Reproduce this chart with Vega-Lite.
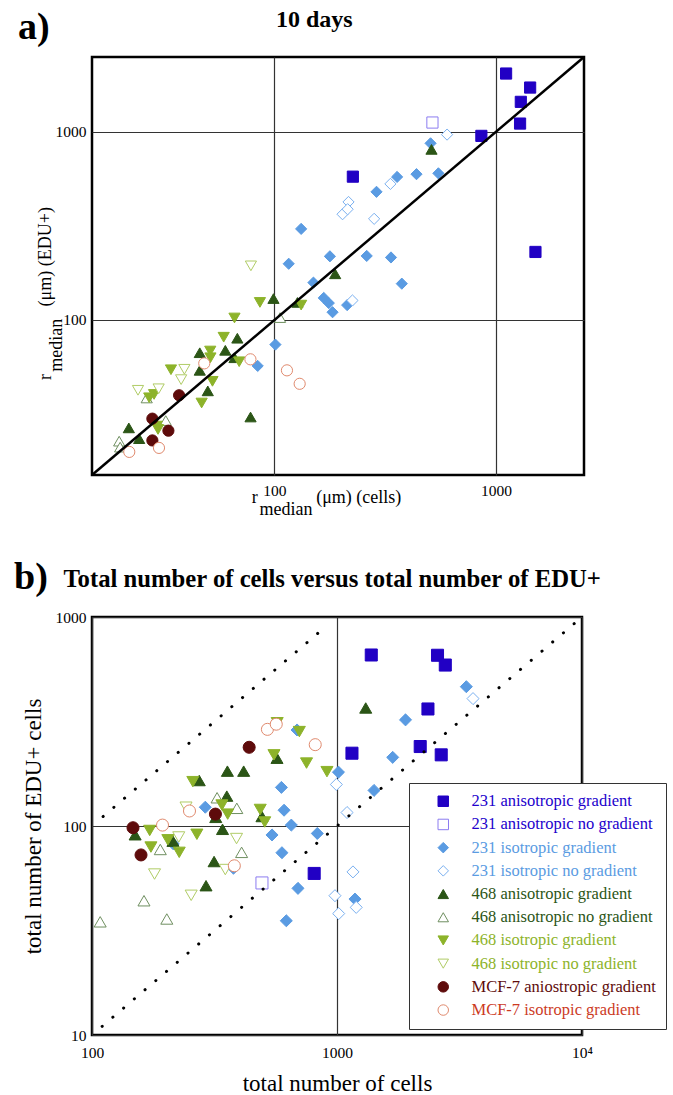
{
  "$schema": "https://vega.github.io/schema/vega-lite/v6.json",
  "padding": {"left": 12, "top": 6, "right": 0, "bottom": 0},
  "background": "white",
  "config": {
    "view": {"stroke": "black", "strokeWidth": 2.5},
    "font": "Liberation Serif",
    "axis": {
      "labelFont": "Liberation Serif", "titleFont": "Liberation Serif",
      "labelColor": "black", "titleColor": "black", "titleFontWeight": "normal",
      "ticks": false, "domain": false, "gridColor": "#333", "gridWidth": 1.2, "gridOpacity": 1,
      "labelFlush": false, "labelOverlap": false, "labelBound": false, "labelFontSize": 15.5
    },
    "title": {"font": "Liberation Serif", "subtitleFont": "Liberation Serif", "color": "black", "subtitleColor": "black", "fontWeight": "bold", "subtitleFontWeight": "bold", "anchor": "start", "frame": "bounds"},
    "legend": {
      "labelFont": "Liberation Serif", "labelFontSize": 16.5, "labelLimit": 320,
      "symbolSize": 110, "symbolStrokeWidth": 1, "rowPadding": 6.2, "padding": 10,
      "fillColor": "white", "strokeColor": "#333",
      "symbolOffset": 16, "labelOffset": 20
    }
  },
  "datasets": {
    "a_line": [{"x": 15, "y": 15}, {"x": 2500, "y": 2500}],
    "b_lines": [
      {"line": "upper", "x": 111, "y": 111}, {"line": "upper", "x": 890, "y": 890},
      {"line": "lower", "x": 110, "y": 11}, {"line": "lower", "x": 9400, "y": 940}
    ],
    "a_pts": [
      {"g": "231 anisotropic gradient", "x": 1112, "y": 2042},
      {"g": "231 anisotropic gradient", "x": 1428, "y": 1720},
      {"g": "231 anisotropic gradient", "x": 1296, "y": 1444},
      {"g": "231 anisotropic gradient", "x": 1286, "y": 1107},
      {"g": "231 anisotropic gradient", "x": 860, "y": 952},
      {"g": "231 anisotropic gradient", "x": 1509, "y": 230},
      {"g": "231 anisotropic gradient", "x": 226, "y": 578},
      {"g": "231 anisotropic no gradient", "x": 517, "y": 1121},
      {"g": "231 isotropic gradient", "x": 507, "y": 869},
      {"g": "231 isotropic gradient", "x": 358, "y": 576},
      {"g": "231 isotropic gradient", "x": 438, "y": 596},
      {"g": "231 isotropic gradient", "x": 550, "y": 602},
      {"g": "231 isotropic gradient", "x": 289, "y": 480},
      {"g": "231 isotropic gradient", "x": 132, "y": 305},
      {"g": "231 isotropic gradient", "x": 116, "y": 199},
      {"g": "231 isotropic gradient", "x": 178, "y": 218},
      {"g": "231 isotropic gradient", "x": 261, "y": 219},
      {"g": "231 isotropic gradient", "x": 336, "y": 215},
      {"g": "231 isotropic gradient", "x": 376, "y": 156},
      {"g": "231 isotropic gradient", "x": 150, "y": 158},
      {"g": "231 isotropic gradient", "x": 167, "y": 131},
      {"g": "231 isotropic gradient", "x": 176, "y": 123},
      {"g": "231 isotropic gradient", "x": 183, "y": 110},
      {"g": "231 isotropic gradient", "x": 213, "y": 120},
      {"g": "231 isotropic gradient", "x": 101, "y": 74},
      {"g": "231 isotropic gradient", "x": 84, "y": 57},
      {"g": "231 isotropic no gradient", "x": 602, "y": 967},
      {"g": "231 isotropic no gradient", "x": 334, "y": 529},
      {"g": "231 isotropic no gradient", "x": 216, "y": 424},
      {"g": "231 isotropic no gradient", "x": 203, "y": 365},
      {"g": "231 isotropic no gradient", "x": 214, "y": 388},
      {"g": "231 isotropic no gradient", "x": 282, "y": 345},
      {"g": "231 isotropic no gradient", "x": 225, "y": 127},
      {"g": "468 anisotropic gradient", "x": 512, "y": 807},
      {"g": "468 anisotropic gradient", "x": 188, "y": 176},
      {"g": "468 anisotropic gradient", "x": 99, "y": 130},
      {"g": "468 anisotropic gradient", "x": 127, "y": 124},
      {"g": "468 anisotropic gradient", "x": 68, "y": 80},
      {"g": "468 anisotropic gradient", "x": 60, "y": 69},
      {"g": "468 anisotropic gradient", "x": 46, "y": 67},
      {"g": "468 anisotropic gradient", "x": 46, "y": 54},
      {"g": "468 anisotropic gradient", "x": 66, "y": 63},
      {"g": "468 anisotropic gradient", "x": 50, "y": 42},
      {"g": "468 anisotropic gradient", "x": 78, "y": 30.5},
      {"g": "468 anisotropic gradient", "x": 22, "y": 26.7},
      {"g": "468 anisotropic gradient", "x": 24.5, "y": 23.4},
      {"g": "468 anisotropic no gradient", "x": 106, "y": 103},
      {"g": "468 anisotropic no gradient", "x": 26.5, "y": 38.5},
      {"g": "468 anisotropic no gradient", "x": 32.3, "y": 29.2},
      {"g": "468 anisotropic no gradient", "x": 19.9, "y": 22.7},
      {"g": "468 anisotropic no gradient", "x": 20.1, "y": 21.1},
      {"g": "468 isotropic gradient", "x": 86, "y": 124},
      {"g": "468 isotropic gradient", "x": 132, "y": 120},
      {"g": "468 isotropic gradient", "x": 66, "y": 102.5},
      {"g": "468 isotropic gradient", "x": 59, "y": 81},
      {"g": "468 isotropic gradient", "x": 51.3, "y": 68.4},
      {"g": "468 isotropic gradient", "x": 51.4, "y": 63},
      {"g": "468 isotropic gradient", "x": 69.3, "y": 60},
      {"g": "468 isotropic gradient", "x": 34.1, "y": 54.4},
      {"g": "468 isotropic gradient", "x": 52.5, "y": 47.2},
      {"g": "468 isotropic gradient", "x": 46.9, "y": 36.2},
      {"g": "468 isotropic gradient", "x": 27.2, "y": 38.6},
      {"g": "468 isotropic gradient", "x": 28.6, "y": 40.2},
      {"g": "468 isotropic gradient", "x": 29.4, "y": 27.3},
      {"g": "468 isotropic gradient", "x": 29.8, "y": 26.2},
      {"g": "468 isotropic no gradient", "x": 78.3, "y": 194},
      {"g": "468 isotropic no gradient", "x": 39.2, "y": 54.7},
      {"g": "468 isotropic no gradient", "x": 37.9, "y": 48.2},
      {"g": "468 isotropic no gradient", "x": 24.2, "y": 42.3},
      {"g": "468 isotropic no gradient", "x": 30, "y": 43.1},
      {"g": "MCF-7 aniostropic gradient", "x": 37.1, "y": 39.8},
      {"g": "MCF-7 aniostropic gradient", "x": 28.1, "y": 29.9},
      {"g": "MCF-7 aniostropic gradient", "x": 33.2, "y": 25.8},
      {"g": "MCF-7 aniostropic gradient", "x": 28.1, "y": 22.9},
      {"g": "MCF-7 isotropic gradient", "x": 77.9, "y": 61.8},
      {"g": "MCF-7 isotropic gradient", "x": 113.9, "y": 54},
      {"g": "MCF-7 isotropic gradient", "x": 130, "y": 45.8},
      {"g": "MCF-7 isotropic gradient", "x": 48.2, "y": 58.8},
      {"g": "MCF-7 isotropic gradient", "x": 30.1, "y": 20.9},
      {"g": "MCF-7 isotropic gradient", "x": 22.1, "y": 19.9}
    ],
    "b_pts": [
      {"g": "231 anisotropic gradient", "x": 1380, "y": 658},
      {"g": "231 anisotropic gradient", "x": 2572, "y": 656},
      {"g": "231 anisotropic gradient", "x": 2767, "y": 589},
      {"g": "231 anisotropic gradient", "x": 2351, "y": 363},
      {"g": "231 anisotropic gradient", "x": 1151, "y": 223},
      {"g": "231 anisotropic gradient", "x": 2186, "y": 240},
      {"g": "231 anisotropic gradient", "x": 2663, "y": 219},
      {"g": "231 anisotropic gradient", "x": 807, "y": 59.3},
      {"g": "231 anisotropic no gradient", "x": 494, "y": 53.4},
      {"g": "231 isotropic gradient", "x": 3372, "y": 464},
      {"g": "231 isotropic gradient", "x": 1904, "y": 322},
      {"g": "231 isotropic gradient", "x": 1688, "y": 213},
      {"g": "231 isotropic gradient", "x": 1416, "y": 148},
      {"g": "231 isotropic gradient", "x": 1014, "y": 181},
      {"g": "231 isotropic gradient", "x": 687, "y": 288},
      {"g": "231 isotropic gradient", "x": 593, "y": 153},
      {"g": "231 isotropic gradient", "x": 608, "y": 119},
      {"g": "231 isotropic gradient", "x": 651, "y": 101},
      {"g": "231 isotropic gradient", "x": 543, "y": 90.6},
      {"g": "231 isotropic gradient", "x": 831, "y": 92.1},
      {"g": "231 isotropic gradient", "x": 290, "y": 123},
      {"g": "231 isotropic gradient", "x": 596, "y": 74.5},
      {"g": "231 isotropic gradient", "x": 693, "y": 50.3},
      {"g": "231 isotropic gradient", "x": 621, "y": 35.2},
      {"g": "231 isotropic gradient", "x": 1184, "y": 44.7},
      {"g": "231 isotropic gradient", "x": 378, "y": 62.8},
      {"g": "231 isotropic gradient", "x": 214.5, "y": 82.2},
      {"g": "231 isotropic no gradient", "x": 3591, "y": 407},
      {"g": "231 isotropic no gradient", "x": 994, "y": 158},
      {"g": "231 isotropic no gradient", "x": 1099, "y": 116},
      {"g": "231 isotropic no gradient", "x": 1162, "y": 60.3},
      {"g": "231 isotropic no gradient", "x": 981, "y": 46.4},
      {"g": "231 isotropic no gradient", "x": 1016, "y": 38.1},
      {"g": "231 isotropic no gradient", "x": 1198, "y": 40.8},
      {"g": "468 anisotropic gradient", "x": 1310, "y": 367},
      {"g": "468 anisotropic gradient", "x": 569, "y": 211},
      {"g": "468 anisotropic gradient", "x": 357, "y": 183},
      {"g": "468 anisotropic gradient", "x": 416, "y": 183},
      {"g": "468 anisotropic gradient", "x": 274, "y": 165},
      {"g": "468 anisotropic gradient", "x": 355, "y": 139},
      {"g": "468 anisotropic gradient", "x": 320, "y": 110},
      {"g": "468 anisotropic gradient", "x": 494, "y": 111},
      {"g": "468 anisotropic gradient", "x": 341, "y": 96.4},
      {"g": "468 anisotropic gradient", "x": 150, "y": 90.8},
      {"g": "468 anisotropic gradient", "x": 214, "y": 84.6},
      {"g": "468 anisotropic gradient", "x": 315, "y": 67.6},
      {"g": "468 anisotropic gradient", "x": 292, "y": 51.8},
      {"g": "468 anisotropic no gradient", "x": 324, "y": 136.5},
      {"g": "468 anisotropic no gradient", "x": 390, "y": 121.5},
      {"g": "468 anisotropic no gradient", "x": 190, "y": 77.2},
      {"g": "468 anisotropic no gradient", "x": 408, "y": 74.8},
      {"g": "468 anisotropic no gradient", "x": 163, "y": 43.9},
      {"g": "468 anisotropic no gradient", "x": 108, "y": 34.8},
      {"g": "468 anisotropic no gradient", "x": 202, "y": 35.9},
      {"g": "468 isotropic gradient", "x": 570, "y": 312},
      {"g": "468 isotropic gradient", "x": 702, "y": 283},
      {"g": "468 isotropic gradient", "x": 553, "y": 219},
      {"g": "468 isotropic gradient", "x": 751, "y": 200},
      {"g": "468 isotropic gradient", "x": 910, "y": 182},
      {"g": "468 isotropic gradient", "x": 258, "y": 163},
      {"g": "468 isotropic gradient", "x": 339, "y": 126},
      {"g": "468 isotropic gradient", "x": 358, "y": 114},
      {"g": "468 isotropic gradient", "x": 486, "y": 120},
      {"g": "468 isotropic gradient", "x": 507, "y": 104.5},
      {"g": "468 isotropic gradient", "x": 172, "y": 95.2},
      {"g": "468 isotropic gradient", "x": 268, "y": 91.3},
      {"g": "468 isotropic gradient", "x": 204, "y": 85.9},
      {"g": "468 isotropic gradient", "x": 227, "y": 74.8},
      {"g": "468 isotropic gradient", "x": 174, "y": 79.3},
      {"g": "468 isotropic no gradient", "x": 242, "y": 123},
      {"g": "468 isotropic no gradient", "x": 226, "y": 88.6},
      {"g": "468 isotropic no gradient", "x": 389, "y": 87.1},
      {"g": "468 isotropic no gradient", "x": 180, "y": 58.9},
      {"g": "468 isotropic no gradient", "x": 254, "y": 46.6},
      {"g": "468 isotropic no gradient", "x": 350, "y": 61.9},
      {"g": "MCF-7 aniostropic gradient", "x": 438, "y": 238},
      {"g": "MCF-7 aniostropic gradient", "x": 319, "y": 114},
      {"g": "MCF-7 aniostropic gradient", "x": 147, "y": 98.1},
      {"g": "MCF-7 aniostropic gradient", "x": 158.5, "y": 72.7},
      {"g": "MCF-7 isotropic gradient", "x": 520, "y": 290},
      {"g": "MCF-7 isotropic gradient", "x": 565, "y": 307},
      {"g": "MCF-7 isotropic gradient", "x": 815, "y": 245},
      {"g": "MCF-7 isotropic gradient", "x": 250, "y": 118},
      {"g": "MCF-7 isotropic gradient", "x": 194, "y": 101},
      {"g": "MCF-7 isotropic gradient", "x": 381, "y": 64.5}
    ]
  },
  "spacing": 37,
  "resolve": {
    "scale": {"x": "independent", "y": "independent", "fill": "independent", "stroke": "independent", "shape": "independent"},
    "legend": {"fill": "independent", "stroke": "independent", "shape": "independent"}
  },
  "vconcat": [
    {
      "width": 492, "height": 418,
      "title": {"text": "a)", "subtitle": "\u200b\u00a0\u00a0\u00a0\u00a0\u00a0\u00a0\u00a0\u00a0\u00a0\u00a0\u00a0\u00a0\u00a0\u00a0\u00a0\u00a0\u00a0\u00a0\u00a0\u00a0\u00a0\u00a0\u00a0\u00a0\u00a0\u00a0\u00a0\u00a0\u00a0\u00a0\u00a0\u00a0\u00a0\u00a0\u00a0\u00a0\u00a0\u00a0\u00a0\u00a0\u00a0\u00a0\u00a010 days",
        "fontSize": 38, "subtitleFontSize": 24, "subtitlePadding": -39, "offset": 4, "dx": -18},
      "layer": [
        {
          "data": {"name": "a_pts"},
          "mark": {"type": "point", "filled": true, "opacity": 1, "strokeWidth": 1, "size": 125},
          "encoding": {
            "x": {"field": "x", "type": "quantitative",
              "scale": {"type": "log", "domain": [15, 2500], "nice": false},
              "axis": {"values": [100, 1000], "format": "d", "grid": true, "labelPadding": 8, "titleFontSize": 18, "titleLineHeight": 12,
                "titleX": 234, "titleY": 27, "titleBaseline": "alphabetic",
                "title": ["r\u00a0\u00a0\u00a0\u00a0\u00a0\u00a0\u00a0\u00a0\u00a0\u00a0\u00a0\u00a0\u00a0(μm) (cells)", "median\u00a0\u00a0\u00a0\u00a0\u00a0\u00a0\u00a0\u00a0\u00a0\u00a0\u00a0\u00a0\u00a0\u00a0\u00a0\u00a0\u00a0\u00a0\u200b"]}},
            "y": {"field": "y", "type": "quantitative",
              "scale": {"type": "log", "domain": [15, 2500], "nice": false},
              "axis": {"values": [100, 1000], "format": "d", "grid": true, "labelPadding": 6, "titleFontSize": 18, "titleLineHeight": 11,
                "titleX": -42, "titleY": 236, "titleBaseline": "alphabetic",
                "title": ["r\u00a0\u00a0\u00a0\u00a0\u00a0\u00a0\u00a0\u00a0\u00a0\u00a0\u00a0\u00a0\u00a0\u00a0\u00a0(μm) (EDU+)", "median\u00a0\u00a0\u00a0\u00a0\u00a0\u00a0\u00a0\u00a0\u00a0\u00a0\u00a0\u00a0\u00a0\u00a0\u00a0\u00a0\u00a0\u00a0\u00a0\u00a0\u00a0\u00a0\u00a0\u200b"]}},
            "shape": {"field": "g", "type": "nominal", "legend": null,
              "scale": {"domain": ["231 anisotropic gradient", "231 anisotropic no gradient", "231 isotropic gradient", "231 isotropic no gradient", "468 anisotropic gradient", "468 anisotropic no gradient", "468 isotropic gradient", "468 isotropic no gradient", "MCF-7 aniostropic gradient", "MCF-7 isotropic gradient"],
                "range": ["square", "square", "diamond", "diamond", "triangle-up", "triangle-up", "triangle-down", "triangle-down", "circle", "circle"]}},
            "fill": {"field": "g", "type": "nominal", "legend": null,
              "scale": {"domain": ["231 anisotropic gradient", "231 anisotropic no gradient", "231 isotropic gradient", "231 isotropic no gradient", "468 anisotropic gradient", "468 anisotropic no gradient", "468 isotropic gradient", "468 isotropic no gradient", "MCF-7 aniostropic gradient", "MCF-7 isotropic gradient"],
                "range": ["#2100c4", "#ffffff", "#5a9be2", "#ffffff", "#2b5516", "#ffffff", "#8db32a", "#ffffff", "#5e0b0b", "#ffffff"]}},
            "stroke": {"field": "g", "type": "nominal", "legend": null,
              "scale": {"domain": ["231 anisotropic gradient", "231 anisotropic no gradient", "231 isotropic gradient", "231 isotropic no gradient", "468 anisotropic gradient", "468 anisotropic no gradient", "468 isotropic gradient", "468 isotropic no gradient", "MCF-7 aniostropic gradient", "MCF-7 isotropic gradient"],
                "range": ["#2100c4", "#8c7cf0", "#5a9be2", "#7ab0f0", "#2b5516", "#6f8f60", "#8db32a", "#b0cc66", "#5e0b0b", "#e08a6e"]}}
          }
        },
        {
          "data": {"name": "a_line"},
          "mark": {"type": "line", "color": "black", "strokeWidth": 2.5},
          "encoding": {
            "x": {"field": "x", "type": "quantitative", "scale": {"type": "log", "domain": [15, 2500], "nice": false}},
            "y": {"field": "y", "type": "quantitative", "scale": {"type": "log", "domain": [15, 2500], "nice": false}}
          }
        }
      ]
    },
    {
      "width": 490, "height": 418,
      "title": {"text": "b)", "subtitle": "\u200b\u00a0\u00a0\u00a0\u00a0\u00a0\u00a0\u00a0\u00a0Total number of cells versus total number of EDU+",
        "fontSize": 38, "subtitleFontSize": 24.7, "subtitlePadding": -30, "offset": 13, "dx": -8},
      "layer": [
        {
          "data": {"name": "b_pts"},
          "mark": {"type": "point", "filled": true, "opacity": 1, "strokeWidth": 1, "size": 145},
          "encoding": {
            "x": {"field": "x", "type": "quantitative",
              "scale": {"type": "log", "domain": [100, 10000], "nice": false},
              "axis": {"values": [100, 1000, 10000], "grid": true, "labelPadding": 10, "titlePadding": 12, "titleFontSize": 23, "title": "total number of cells",
                "labelExpr": "datum.value >= 10000 ? '10\u2074' : format(datum.value, 'd')"}},
            "y": {"field": "y", "type": "quantitative",
              "scale": {"type": "log", "domain": [10, 1000], "nice": false},
              "axis": {"values": [10, 100, 1000], "format": "d", "grid": true, "labelPadding": 6, "titlePadding": 10, "titleFontSize": 23, "title": "total number of EDU+ cells"}},
            "shape": {"field": "g", "type": "nominal",
              "legend": {"orient": "none", "legendX": 317, "legendY": 166, "title": null,
                "labelColor": {"expr": "indexof(datum.label,'231 aniso')==0 ? '#2200cc' : indexof(datum.label,'231 iso')==0 ? '#5a9be2' : indexof(datum.label,'468 aniso')==0 ? '#2b5516' : indexof(datum.label,'468 iso')==0 ? '#8db32a' : indexof(datum.label,'MCF-7 anio')==0 ? '#5e0b0b' : '#cc3b1f'"}},
              "scale": {"domain": ["231 anisotropic gradient", "231 anisotropic no gradient", "231 isotropic gradient", "231 isotropic no gradient", "468 anisotropic gradient", "468 anisotropic no gradient", "468 isotropic gradient", "468 isotropic no gradient", "MCF-7 aniostropic gradient", "MCF-7 isotropic gradient"],
                "range": ["square", "square", "diamond", "diamond", "triangle-up", "triangle-up", "triangle-down", "triangle-down", "circle", "circle"]}},
            "fill": {"field": "g", "type": "nominal",
              "legend": {"orient": "none", "legendX": 317, "legendY": 166, "title": null,
                "labelColor": {"expr": "indexof(datum.label,'231 aniso')==0 ? '#2200cc' : indexof(datum.label,'231 iso')==0 ? '#5a9be2' : indexof(datum.label,'468 aniso')==0 ? '#2b5516' : indexof(datum.label,'468 iso')==0 ? '#8db32a' : indexof(datum.label,'MCF-7 anio')==0 ? '#5e0b0b' : '#cc3b1f'"}},
              "scale": {"domain": ["231 anisotropic gradient", "231 anisotropic no gradient", "231 isotropic gradient", "231 isotropic no gradient", "468 anisotropic gradient", "468 anisotropic no gradient", "468 isotropic gradient", "468 isotropic no gradient", "MCF-7 aniostropic gradient", "MCF-7 isotropic gradient"],
                "range": ["#2100c4", "#ffffff", "#5a9be2", "#ffffff", "#2b5516", "#ffffff", "#8db32a", "#ffffff", "#5e0b0b", "#ffffff"]}},
            "stroke": {"field": "g", "type": "nominal",
              "legend": {"orient": "none", "legendX": 317, "legendY": 166, "title": null,
                "labelColor": {"expr": "indexof(datum.label,'231 aniso')==0 ? '#2200cc' : indexof(datum.label,'231 iso')==0 ? '#5a9be2' : indexof(datum.label,'468 aniso')==0 ? '#2b5516' : indexof(datum.label,'468 iso')==0 ? '#8db32a' : indexof(datum.label,'MCF-7 anio')==0 ? '#5e0b0b' : '#cc3b1f'"}},
              "scale": {"domain": ["231 anisotropic gradient", "231 anisotropic no gradient", "231 isotropic gradient", "231 isotropic no gradient", "468 anisotropic gradient", "468 anisotropic no gradient", "468 isotropic gradient", "468 isotropic no gradient", "MCF-7 aniostropic gradient", "MCF-7 isotropic gradient"],
                "range": ["#2100c4", "#8c7cf0", "#5a9be2", "#7ab0f0", "#2b5516", "#6f8f60", "#8db32a", "#b0cc66", "#5e0b0b", "#e08a6e"]}}
          }
        },
        {
          "data": {"name": "b_lines"},
          "mark": {"type": "line", "color": "black", "strokeWidth": 3, "strokeDash": [0.1, 14], "strokeCap": "round"},
          "encoding": {
            "x": {"field": "x", "type": "quantitative", "scale": {"type": "log", "domain": [100, 10000], "nice": false}},
            "y": {"field": "y", "type": "quantitative", "scale": {"type": "log", "domain": [10, 1000], "nice": false}},
            "detail": {"field": "line", "type": "nominal"}
          }
        }
      ]
    }
  ]
}
